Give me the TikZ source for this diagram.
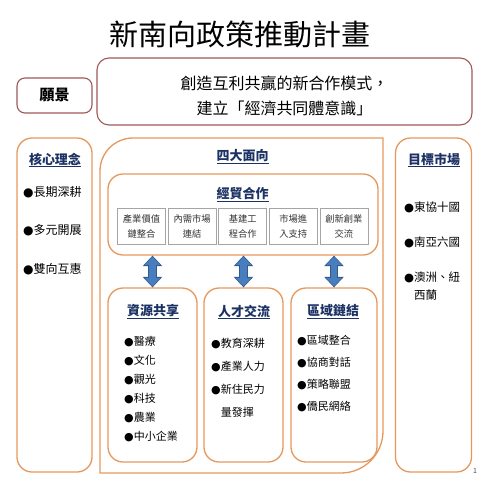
\documentclass[tikz,border=0pt]{standalone}
\usepackage{fontspec}
\setmainfont{Noto Sans CJK TC}
\newfontfamily\symfont{DejaVu Sans}
\usetikzlibrary{arrows.meta,positioning}
\definecolor{boxorange}{RGB}{230,152,92}
\definecolor{visionred}{RGB}{158,88,88}
\definecolor{headnavy}{RGB}{28,50,100}
\definecolor{arrowblue}{RGB}{72,125,190}
\definecolor{arrowedge}{RGB}{50,90,145}
\definecolor{subgray}{RGB}{165,165,165}
\newcommand{\bul}{{\symfont ●}}
\tikzset{
  orangebox/.style={draw=boxorange, line width=1.3pt, rounded corners=15pt, inner sep=0pt},
  redbox/.style={draw=visionred, line width=1.1pt, inner sep=0pt},
  heading/.style={text=headnavy, font=\fontsize{13}{15}\selectfont\bfseries},
  subbox/.style={draw=subgray, line width=0.8pt, minimum width=48pt, minimum height=36pt,
    inner sep=0pt, align=center, text=black!80, font=\fontsize{9.3}{15}\selectfont},
  itemlist/.style={anchor=west, inner sep=0pt, align=left},
  linkarrow/.style={draw=arrowedge, line width=8.6pt,
    {Triangle[width=19pt,length=10.5pt]}-{Triangle[width=19pt,length=10.5pt]},
    postaction={draw=arrowblue, line width=6.2pt,
      {Triangle[width=15pt,length=8.2pt]}-{Triangle[width=15pt,length=8.2pt]},
      shorten <=1.1pt, shorten >=1.1pt}}
}

\begin{document}
\begin{tikzpicture}[x=1pt, y=-1pt]
  \useasboundingbox (0,0) rectangle (480,480);

  % title and vision
  \node (title) at (240,34) {\fontsize{29}{32}\selectfont 新南向政策推動計畫};
  \node[redbox, rounded corners=8pt, minimum width=75pt, minimum height=35pt,
        font=\fontsize{15}{17}\selectfont\bfseries] (vislabel) at (54.5,95.5) {願景};
  \node[redbox, rounded corners=12pt, minimum width=375pt, minimum height=67pt] (visbox) at (284.5,91.5) {};
  \node[align=center, font=\fontsize{16}{25}\selectfont] (vistext) at (284.5,95.5)
    {創造互利共贏的新合作模式，\\建立「經濟共同體意識」};

  % core ideas
  \node[orangebox, minimum width=75pt, minimum height=334pt] (core) at (54.5,305) {};
  \node[heading] (corehead) at (55,160) {\underline{核心理念}};
  \node[itemlist, font=\fontsize{12}{38.5}\selectfont] (corelist) at (23,230.5)
    {\bul{}長期深耕\\\bul{}多元開展\\\bul{}雙向互惠};

  % target markets
  \node[orangebox, minimum width=76pt, minimum height=334pt] (target) at (433.5,305) {};
  \node[heading] (targethead) at (434,160) {\underline{目標市場}};
  \node[itemlist, font=\fontsize{11.5}{18}\selectfont] (targetlist) at (404,251.5)
    {\bul{}東協十國\\[17pt]\bul{}南亞六國\\[17pt]\bul{}澳洲、紐\\\phantom{\bul}西蘭};

  % four directions
  \draw[draw=boxorange, line width=1.3pt] (100,473) -- (100,171)
    arc[start angle=180, end angle=270, radius=33] -- (383,138) -- (383,431)
    arc[start angle=0, end angle=90, radius=42] -- cycle;
  \node[heading] (fourhead) at (242.5,157) {\underline{四大面向}};

  \node[orangebox, minimum width=270pt, minimum height=81pt] (trade) at (243,214.5) {};
  \node[heading] (tradehead) at (242.5,195) {\underline{經貿合作}};
  \node[subbox] (sub1) at (141.5,226) {產業價值\\鏈整合};
  \node[subbox, right of=sub1, node distance=50.6pt] (sub2) {內需市場\\連結};
  \node[subbox, right of=sub2, node distance=50.6pt] (sub3) {基建工\\程合作};
  \node[subbox, right of=sub3, node distance=50.6pt] (sub4) {市場進\\入支持};
  \node[subbox, right of=sub4, node distance=50.6pt] (sub5) {創新創業\\交流};

  \node[orangebox, minimum width=89pt, minimum height=174pt] (res) at (152.5,375) {};
  \node[heading] (reshead) at (153,312) {\underline{資源共享}};
  \node[itemlist, font=\fontsize{11}{19}\selectfont] (reslist) at (124,389.5)
    {\bul{}醫療\\\bul{}文化\\\bul{}觀光\\\bul{}科技\\\bul{}農業\\\bul{}中小企業};

  \node[orangebox, minimum width=79pt, minimum height=174pt] (talent) at (243.5,375) {};
  \node[heading] (talenthead) at (244,312) {\underline{人才交流}};
  \node[itemlist, font=\fontsize{11}{23}\selectfont] (talentlist) at (211,377.5)
    {\bul{}教育深耕\\\bul{}產業人力\\\bul{}新住民力\\\phantom{\bul}量發揮};

  \node[orangebox, minimum width=86pt, minimum height=174pt] (region) at (334,375) {};
  \node[heading] (regionhead) at (333,312) {\underline{區域鏈結}};
  \node[itemlist, font=\fontsize{11}{22}\selectfont] (regionlist) at (297,374)
    {\bul{}區域整合\\\bul{}協商對話\\\bul{}策略聯盟\\\bul{}僑民網絡};

  \draw[linkarrow] (trade.south -| res.north) -- (res.north);
  \draw[linkarrow] (trade.south -| talent.north) -- (talent.north);
  \draw[linkarrow] (trade.south -| region.north) -- (region.north);

  \node[text=black!70, font=\fontsize{7}{8}\selectfont] (pagenum) at (475,471) {1};
\end{tikzpicture}
\end{document}
